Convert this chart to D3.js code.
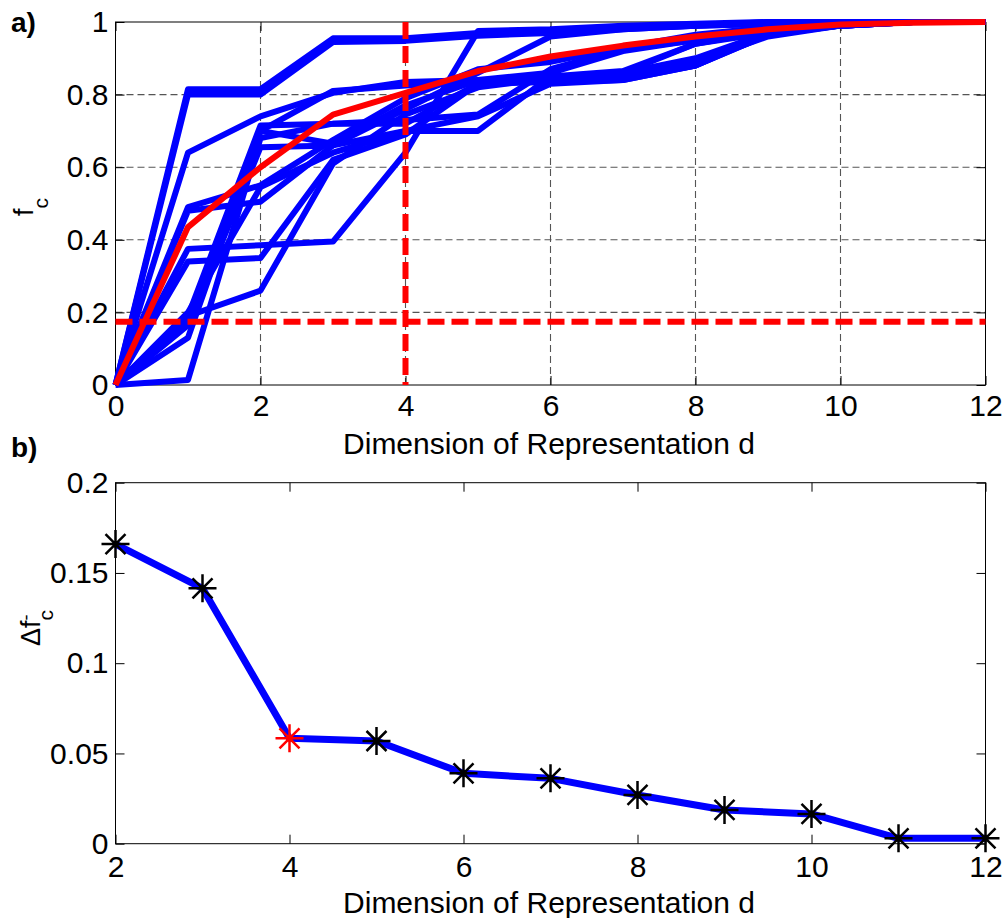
<!DOCTYPE html>
<html>
<head>
<meta charset="utf-8">
<script src="https://cdn.jsdelivr.net/npm/d3@7"></script>
<style>
  body { margin: 0; background: #fff; }
  text { font-family: "Liberation Sans", Arial, sans-serif; }
</style>
</head>
<body>
<div id="chart"></div>
<script>

const WIDTH = 1005;
const HEIGHT = 918;

// panel a) : fraction f_c against dimension d, one curve per run
const dims = [0, 1, 2, 3, 4, 5, 6, 7, 8, 9, 10, 11, 12];

const run01 = [0, 0.815, 0.815, 0.955, 0.955, 0.97, 0.975, 0.985, 0.99, 0.995, 1, 1, 1];
const run02 = [0, 0.80, 0.80, 0.945, 0.948, 0.962, 0.97, 0.98, 0.99, 0.995, 0.998, 1, 1];
const run03 = [0, 0.64, 0.74, 0.805, 0.835, 0.84, 0.845, 0.86, 0.94, 0.975, 0.99, 1, 1];
const run04 = [0, 0.17, 0.70, 0.81, 0.825, 0.835, 0.84, 0.845, 0.88, 0.97, 0.99, 1, 1];
const run05 = [0, 0.19, 0.715, 0.72, 0.73, 0.745, 0.87, 0.925, 0.95, 0.975, 0.995, 1, 1];
const run06 = [0, 0.165, 0.655, 0.66, 0.70, 0.70, 0.85, 0.865, 0.94, 0.97, 0.99, 1, 1];
const run07 = [0, 0.49, 0.55, 0.675, 0.79, 0.87, 0.89, 0.93, 0.965, 0.985, 0.995, 1, 1];
const run08 = [0, 0.48, 0.505, 0.66, 0.76, 0.86, 0.96, 0.98, 0.99, 1, 1, 1, 1];
const run09 = [0, 0.375, 0.385, 0.395, 0.64, 0.975, 0.98, 0.99, 0.995, 1, 1, 1, 1];
const run10 = [0, 0.34, 0.35, 0.62, 0.69, 0.83, 0.835, 0.84, 0.88, 0.965, 0.99, 1, 1];
const run11 = [0, 0.19, 0.26, 0.61, 0.745, 0.82, 0.845, 0.86, 0.90, 0.97, 0.99, 1, 1];
const run12 = [0, 0.13, 0.70, 0.665, 0.77, 0.84, 0.86, 0.92, 0.95, 0.98, 0.995, 1, 1];
const run13 = [0, 0.014, 0.68, 0.72, 0.72, 0.83, 0.84, 0.85, 0.89, 0.96, 0.99, 1, 1];
const run14 = [0, 0.20, 0.545, 0.64, 0.70, 0.74, 0.83, 0.84, 0.88, 0.965, 0.99, 1, 1];
const runs = [run01, run02, run03, run04, run05, run06, run07, run08, run09, run10, run11, run12, run13, run14];

const meanRun = [0, 0.435, 0.60, 0.745, 0.805, 0.865, 0.905, 0.935, 0.96, 0.98, 0.993, 0.998, 1];

const thresholdFc = 0.174;
const chosenDim = 4;

const xTicksA = [0, 2, 4, 6, 8, 10, 12];
const yTicksA = [0, 0.2, 0.4, 0.6, 0.8, 1];

// panel b) : change of mean f_c
const deltaDims = [2, 3, 4, 5, 6, 7, 8, 9, 10, 11, 12];
const deltaFc = [0.166, 0.1415, 0.0584, 0.0569, 0.039, 0.0362, 0.027, 0.0187, 0.0165, 0.003, 0.003];

const xTicksB = [2, 4, 6, 8, 10, 12];
const yTicksB = [0, 0.05, 0.1, 0.15, 0.2];

const BLUE = "#0000ff";
const RED = "#ff0000";
const FONT = 30;

const svg = d3.select("#chart")
  .append("svg")
    .attr("width", WIDTH)
    .attr("height", HEIGHT);

// draws box, inward ticks on all four sides and the tick labels
function drawFrame(x, y, xTicks, yTicks, fmtY, padX) {
  const [x0, x1] = x.range();
  const [y0, y1] = y.range();

  svg.append("rect")
    .attr("x", x0).attr("y", y1)
    .attr("width", x1 - x0).attr("height", y0 - y1)
    .attr("fill", "none").attr("stroke", "#000").attr("stroke-width", 1);

  const axes = [
    [d3.axisBottom(x).tickValues(xTicks).tickFormat(d3.format("d")).tickPadding(padX), `translate(0,${y0})`],
    [d3.axisTop(x).tickValues(xTicks).tickFormat(""), `translate(0,${y1})`],
    [d3.axisLeft(y).tickValues(yTicks).tickFormat(fmtY).tickPadding(7), `translate(${x0},0)`],
    [d3.axisRight(y).tickValues(yTicks).tickFormat(""), `translate(${x1},0)`]
  ];
  axes.forEach(([ax, tr]) => {
    const g = svg.append("g")
      .attr("transform", tr)
      .call(ax.tickSizeInner(-9).tickSizeOuter(0));
    g.select(".domain").remove();
    g.selectAll("line").attr("stroke", "#000");
    g.selectAll("text")
      .attr("font-size", FONT)
      .attr("font-family", "Liberation Sans, Arial, sans-serif")
      .attr("fill", "#000");
  });
}

// ---------- panel a ----------
const xA = d3.scaleLinear().domain([0, 12]).range([115.5, 985.5]);
const yA = d3.scaleLinear().domain([0, 1]).range([385, 22]);

const grid = svg.append("g")
  .attr("stroke", "#555")
  .attr("stroke-width", 1.1)
  .attr("stroke-dasharray", "7,4");

grid.selectAll(".vgrid")
  .data(xTicksA.slice(1, -1))
  .enter()
  .append("line")
    .attr("x1", (d) => xA(d)).attr("x2", (d) => xA(d))
    .attr("y1", yA(0)).attr("y2", yA(1));

grid.selectAll(".hgrid")
  .data(yTicksA.slice(1, -1))
  .enter()
  .append("line")
    .attr("x1", xA(0)).attr("x2", xA(12))
    .attr("y1", (d) => yA(d)).attr("y2", (d) => yA(d));

drawFrame(xA, yA, xTicksA, yTicksA, (d) => d3.format("")(d), 10);

const lineA = d3.line()
  .x((d, i) => xA(dims[i]))
  .y((d) => yA(d));

svg.selectAll(".run")
  .data(runs)
  .enter()
  .append("path")
    .attr("class", "run")
    .attr("d", lineA)
    .attr("fill", "none")
    .attr("stroke", BLUE)
    .attr("stroke-width", 6)
    .attr("stroke-linejoin", "round");

svg.append("path")
  .attr("d", lineA(meanRun))
  .attr("fill", "none")
  .attr("stroke", RED)
  .attr("stroke-width", 6)
  .attr("stroke-linejoin", "round");

svg.append("line")
  .attr("x1", xA(0)).attr("x2", xA(12))
  .attr("y1", yA(thresholdFc)).attr("y2", yA(thresholdFc))
  .attr("stroke", RED).attr("stroke-width", 6)
  .attr("stroke-dasharray", "17,7");

svg.append("line")
  .attr("x1", xA(chosenDim)).attr("x2", xA(chosenDim))
  .attr("y1", yA(1)).attr("y2", yA(0))
  .attr("stroke", RED).attr("stroke-width", 6)
  .attr("stroke-dasharray", "17,7");

svg.append("text")
  .attr("x", 11).attr("y", 32)
  .attr("font-size", 28).attr("font-weight", "bold")
  .text("a)");

svg.append("text")
  .attr("x", 549).attr("y", 454)
  .attr("text-anchor", "middle")
  .attr("font-size", FONT)
  .text("Dimension of Representation d");

const labA = svg.append("text")
  .attr("transform", "translate(33,207) rotate(-90)")
  .attr("text-anchor", "middle")
  .attr("font-size", 27);
labA.append("tspan").text("f");
labA.append("tspan").attr("dy", 15).attr("font-size", 21).text("c");

// ---------- panel b ----------
const xB = d3.scaleLinear().domain([2, 12]).range([115.5, 985.5]);
const yB = d3.scaleLinear().domain([0, 0.2]).range([843.7, 482.7]);

drawFrame(xB, yB, xTicksB, yTicksB, (d) => d3.format("")(d), 12);

const lineB = d3.line()
  .x((d, i) => xB(deltaDims[i]))
  .y((d) => yB(d));

svg.append("path")
  .attr("d", lineB(deltaFc))
  .attr("fill", "none")
  .attr("stroke", BLUE)
  .attr("stroke-width", 7)
  .attr("stroke-linejoin", "round");

// asterisk marker: plus with a shorter cross
const star = "M-14,0H14M0,-14V14M-10,-10L10,10M-10,10L10,-10";

svg.selectAll(".star")
  .data(deltaFc)
  .enter()
  .append("path")
    .attr("class", "star")
    .attr("transform", (d, i) => `translate(${xB(deltaDims[i])},${yB(d)})`)
    .attr("d", star)
    .attr("fill", "none")
    .attr("stroke", (d, i) => deltaDims[i] === chosenDim ? RED : "#000")
    .attr("stroke-width", 2.5);

svg.append("text")
  .attr("x", 11).attr("y", 457)
  .attr("font-size", 28).attr("font-weight", "bold")
  .text("b)");

svg.append("text")
  .attr("x", 549).attr("y", 913)
  .attr("text-anchor", "middle")
  .attr("font-size", FONT)
  .text("Dimension of Representation d");

const labB = svg.append("text")
  .attr("transform", "translate(40,628) rotate(-90)")
  .attr("text-anchor", "middle")
  .attr("font-size", 27);
labB.append("tspan").text("Δf");
labB.append("tspan").attr("dy", -8).attr("font-size", 18).text("-");
labB.append("tspan").attr("dx", -6).attr("dy", 21).attr("font-size", 21).text("c");

</script>
</body>
</html>
